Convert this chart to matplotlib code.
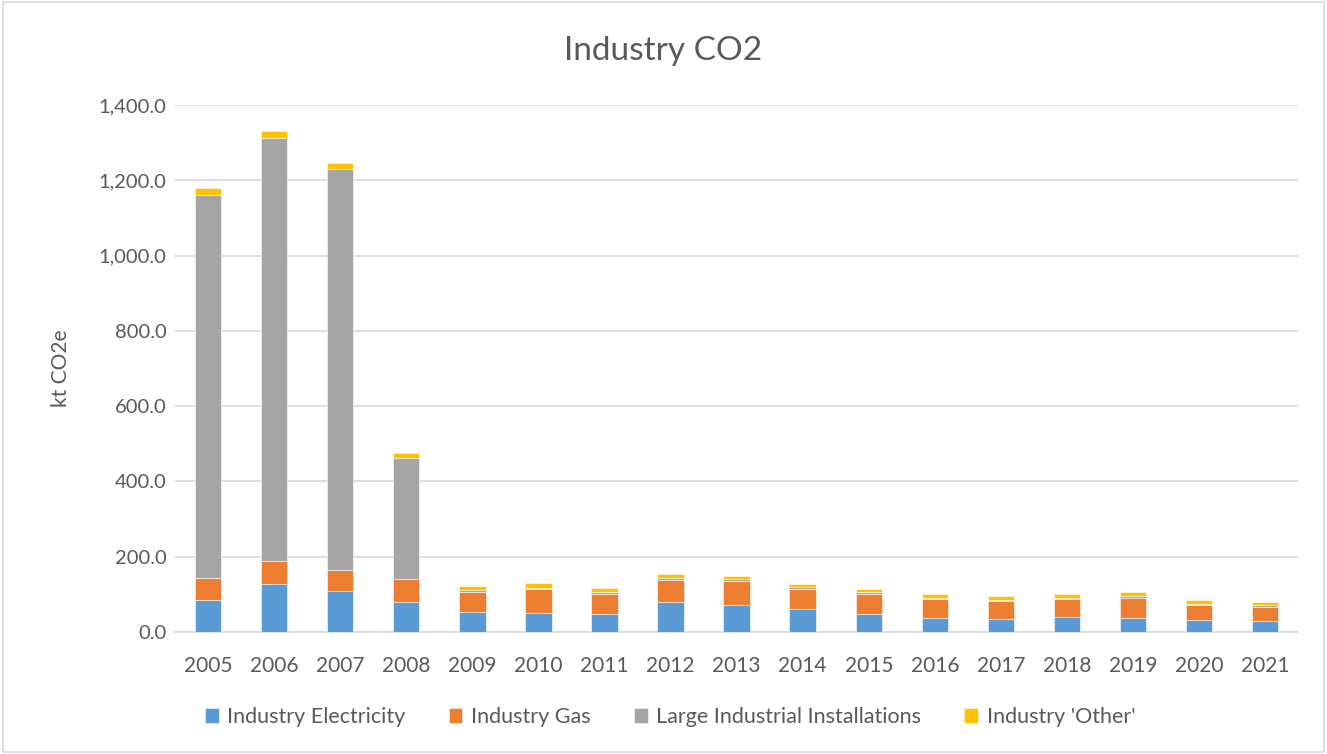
"""
Stacked bar chart of industry CO2 emissions by source, 2005-2021.
"""
import numpy as np
import matplotlib

matplotlib.use("Agg")
import matplotlib.pyplot as plt

years = [str(y) for y in range(2005, 2022)]
industry_electricity = [84, 127, 108, 79, 54, 51, 49, 79, 71, 62, 49, 38, 35, 39, 37, 32, 30]
industry_gas = [59, 62, 58, 61, 53, 62, 53, 60, 65, 53, 53, 49, 47, 50, 54, 41, 37]
large_installations = [1018, 1124, 1063, 323, 5, 4.5, 5, 4.5, 3.5, 3.6, 3.6, 3.5, 2.7, 2.5, 4.6, 2.7, 3.6]
industry_other = [18.5, 17, 17.5, 13, 11, 13, 10, 10, 8, 9, 8.6, 11, 10.6, 10.7, 9.6, 9.8, 9]

series = [
    ("Industry Electricity", industry_electricity, "#5B9BD5"),
    ("Industry Gas", industry_gas, "#ED7D31"),
    ("Large Industrial Installations", large_installations, "#A5A5A5"),
    ("Industry 'Other'", industry_other, "#FFC000"),
]

text_color = "#595959"
plt.rcParams["font.family"] = ["Lato", "DejaVu Sans"]

fig = plt.figure(figsize=(13.27, 7.54), dpi=100)
ax = fig.add_axes([0.1319, 0.1618, 0.8464, 0.6989])

x = np.arange(len(years))
bottom = np.zeros(len(years))
for label, values, color in series:
    vals = np.array(values, dtype=float)
    ax.bar(x, vals, width=0.4, bottom=bottom, color=color, label=label,
           edgecolor="white", linewidth=0.4, zorder=3)
    bottom += vals

ax.set_xlim(-0.5, len(years) - 0.5)
ax.set_ylim(0, 1400)
ax.set_yticks(np.arange(0, 1401, 200))
ax.set_yticklabels([f"{v:,.1f}" for v in np.arange(0, 1401, 200)])
ax.set_xticks(x)
ax.set_xticklabels(years)

ax.grid(axis="y", color="#D9D9D9", linewidth=1.2, zorder=0)
for side in ["top", "right", "left"]:
    ax.spines[side].set_visible(False)
ax.spines["bottom"].set_color("#D9D9D9")
ax.spines["bottom"].set_linewidth(1.2)
ax.tick_params(axis="both", length=0, colors=text_color)
ax.tick_params(axis="x", pad=17, labelsize=15)
ax.tick_params(axis="y", pad=6, labelsize=14.5)

ax.set_ylabel("kt CO2e", fontsize=15, color=text_color, labelpad=20)
fig.text(0.5, 0.933, "Industry CO2", ha="center", va="center",
         fontsize=24, color=text_color)

fig.legend(loc="center", bbox_to_anchor=(0.505, 0.049), ncol=4, frameon=False,
           fontsize=15.5, handlelength=0.65, handleheight=0.65, handletextpad=0.4,
           columnspacing=2.0, labelcolor=text_color)

# light border around the chart area
fig.patches.append(plt.Rectangle((0.002, 0.002), 0.996, 0.996, transform=fig.transFigure,
                                 fill=False, edgecolor="#D9D9D9", linewidth=1.2))

fig.savefig("out.png", dpi=100)
